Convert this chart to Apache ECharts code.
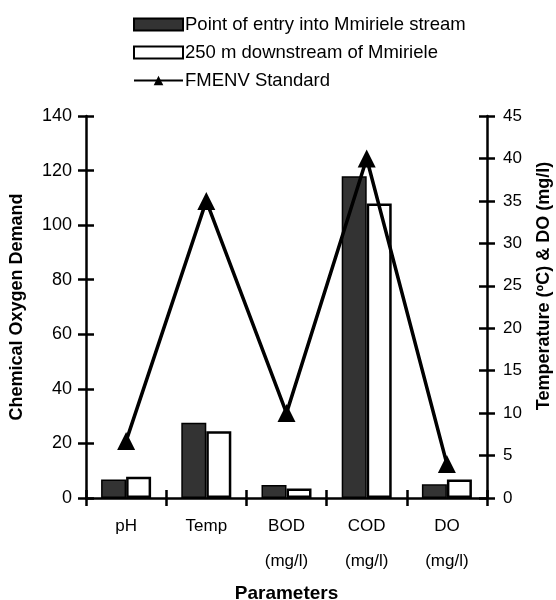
<!DOCTYPE html>
<html>
<head>
<meta charset="utf-8">
<script src="https://cdn.jsdelivr.net/npm/echarts@6/dist/echarts.min.js"></script>
<style>html,body{margin:0;padding:0;background:#fff;}#c{width:556px;height:600px;}</style>
</head>
<body>
<div id="c"></div>
<script>
const categories = ['pH', 'Temp', 'BOD\n(mg/l)', 'COD\n(mg/l)', 'DO\n(mg/l)'];
const pointOfEntry = [6.8, 27.6, 4.8, 117.9, 5.0];
const downstream250m = [7.8, 24.5, 3.5, 107.9, 6.8];
const fmenvStandard = [6.7, 35, 10, 40, 4];
const seriesNames = ['Point of entry into Mmiriele stream', '250 m downstream of Mmiriele', 'FMENV Standard'];
const leftTicks = {min: 0, max: 140, interval: 20};
const rightTicks = {min: 0, max: 45, interval: 5};

const FONT = '"Liberation Sans", Arial, sans-serif';
const chart = echarts.init(document.getElementById('c'), null, {renderer: 'canvas'});
const axisLine = {show: true, lineStyle: {color: '#000', width: 2.5}};
chart.setOption({
  backgroundColor: '#fff',
  animation: false,
  grid: {left: 86, right: 69, top: 116, bottom: 102, containLabel: false, outerBoundsMode: 'none'},
  legend: {
    orient: 'vertical', left: 128, top: 10, itemWidth: 49, itemHeight: 12, itemGap: 9,
    textStyle: {fontFamily: FONT, fontSize: 18.5, color: '#000', padding: [0, 0, 0, -3]},
    data: [
      {name: seriesNames[0], icon: 'rect'},
      {name: seriesNames[1], icon: 'rect'},
      {name: seriesNames[2]}
    ]
  },
  xAxis: [{
    type: 'category', data: categories, position: 'bottom',
    axisLine: axisLine,
    axisTick: {show: true, inside: false, length: 8, lineStyle: {color: '#000', width: 2.5}},
    axisLabel: {fontFamily: FONT, fontSize: 17, color: '#000', lineHeight: 35, margin: 11},
    name: 'Parameters', nameLocation: 'middle', nameGap: 75,
    nameTextStyle: {fontFamily: FONT, fontSize: 19, fontWeight: 'bold', color: '#000'}
  }, {
    type: 'category', data: categories, position: 'bottom',
    axisLine: {show: false},
    axisTick: {show: true, inside: true, length: 8, lineStyle: {color: '#000', width: 2.5}},
    axisLabel: {show: false}
  }],
  yAxis: [{
    type: 'value', position: 'left', min: leftTicks.min, max: leftTicks.max, interval: leftTicks.interval,
    axisLine: axisLine, splitLine: {show: false},
    axisTick: {show: true, inside: false, length: 8, lineStyle: {color: '#000', width: 2.5}},
    axisLabel: {fontFamily: FONT, fontSize: 18, color: '#000', margin: 14},
    name: 'Chemical Oxygen Demand', nameLocation: 'middle', nameRotate: 90, nameGap: 60,
    nameTextStyle: {fontFamily: FONT, fontSize: 18, fontWeight: 'bold', color: '#000'}
  }, {
    type: 'value', position: 'right', min: rightTicks.min, max: rightTicks.max, interval: rightTicks.interval,
    axisLine: axisLine, splitLine: {show: false},
    axisTick: {show: true, inside: false, length: 8, lineStyle: {color: '#000', width: 2.5}},
    axisLabel: {fontFamily: FONT, fontSize: 17, color: '#000', margin: 16},
    name: 'Temperature (ºC) & DO (mg/l)', nameLocation: 'middle', nameRotate: 90, nameGap: 48,
    nameTextStyle: {fontFamily: FONT, fontSize: 18, fontWeight: 'bold', color: '#000', padding: [0, 0, 0, 42]}
  }, {
    type: 'value', position: 'left', min: leftTicks.min, max: leftTicks.max, interval: leftTicks.interval,
    axisLine: {show: false}, splitLine: {show: false}, axisLabel: {show: false},
    axisTick: {show: true, inside: true, length: 8, lineStyle: {color: '#000', width: 2.5}}
  }, {
    type: 'value', position: 'right', min: rightTicks.min, max: rightTicks.max, interval: rightTicks.interval,
    axisLine: {show: false}, splitLine: {show: false}, axisLabel: {show: false},
    axisTick: {show: true, inside: true, length: 8, lineStyle: {color: '#000', width: 2.5}}
  }],
  series: [{
    name: seriesNames[0], type: 'bar', data: pointOfEntry, xAxisIndex: 0, yAxisIndex: 0,
    barWidth: 25, barGap: '0%',
    itemStyle: {color: '#333', borderColor: '#000', borderWidth: 1.5}
  }, {
    name: seriesNames[1], type: 'bar', data: downstream250m, xAxisIndex: 0, yAxisIndex: 0,
    barWidth: 25, barGap: '0%',
    itemStyle: {color: '#fff', borderColor: '#000', borderWidth: 2.5}
  }, {
    name: seriesNames[2], type: 'line', data: fmenvStandard, xAxisIndex: 0, yAxisIndex: 1,
    symbol: 'triangle', symbolSize: [18, 18], z: 5,
    lineStyle: {color: '#000', width: 3.5}, itemStyle: {color: '#000'}
  }]
});
</script>
</body>
</html>
